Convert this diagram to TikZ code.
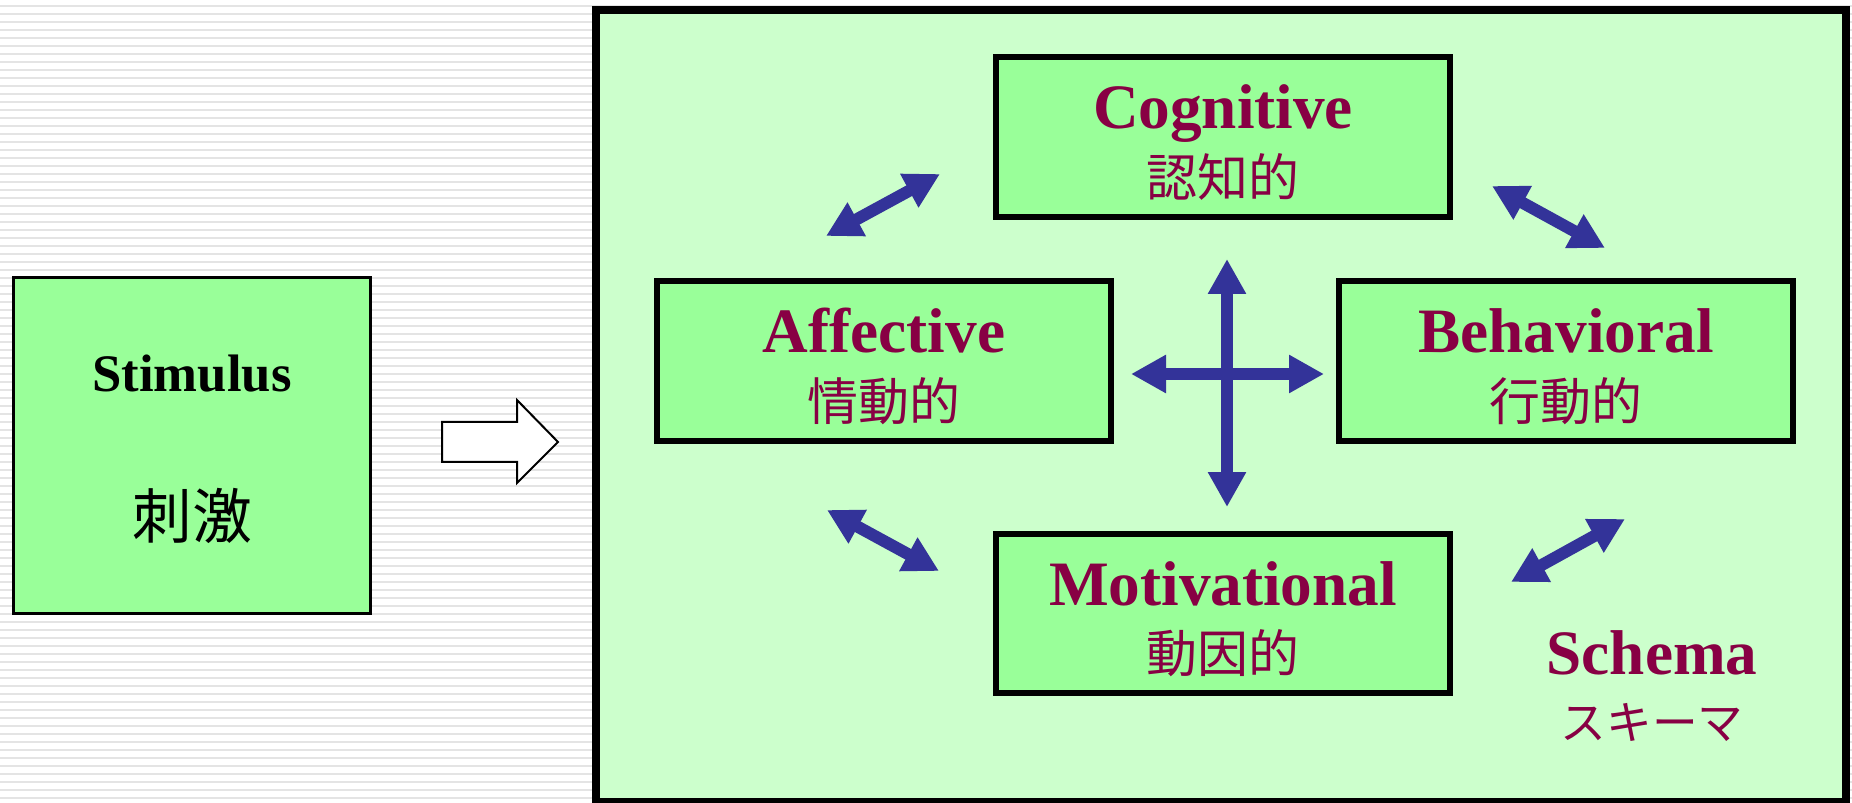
\documentclass[tikz,border=0pt]{standalone}
\usepackage{fontspec}
\setmainfont{Liberation Serif}
\newfontfamily\cjk{Noto Sans CJK JP}
\usetikzlibrary{arrows.meta,positioning,calc}
\definecolor{stripegray}{RGB}{228,228,228}
\definecolor{schemagreen}{RGB}{204,255,204}
\definecolor{facetgreen}{RGB}{153,255,153}
\definecolor{facetred}{RGB}{136,0,68}
\definecolor{linkblue}{RGB}{51,51,153}

\begin{document}
\begin{tikzpicture}[x=0.02cm,y=-0.02cm,line join=miter,
    facet/.style={draw=black,line width=0.12cm,fill=facetgreen,
      minimum width=9.1cm,minimum height=3.2cm,inner sep=0pt},
    engl/.style={font=\fontsize{36}{40}\selectfont\bfseries,text=facetred,anchor=base,inner sep=0pt},
    jp/.style={font=\cjk\fontsize{29}{32}\selectfont,text=facetred,inner sep=0pt},
    link/.style={linkblue,line width=0.24cm,
      {Triangle[length=0.7cm,width=0.72cm]}-{Triangle[length=0.7cm,width=0.72cm]}}]
  \useasboundingbox (0,0) rectangle (1852,803);
  % striped page
  \foreach \k in {0,...,99}
    \draw[stripegray,line width=0.035cm] (0,6+8*\k) -- (1852,6+8*\k);

  % stimulus side
  \node[draw=black,line width=0.05cm,fill=facetgreen,minimum width=7.14cm,
        minimum height=6.72cm,inner sep=0pt] (stim) at (192,445.5) {};
  \node[font=\fontsize{30}{34}\selectfont\bfseries,anchor=base,inner sep=0pt]
        (stim-en) at (192,392) {Stimulus};
  \node[font=\cjk\fontsize{34}{38}\selectfont,inner sep=0pt] (stim-jp) at (192,516) {刺激};
  \draw[black,line width=0.04cm,fill=white]
        (442,422) -- (517,422) -- (517,400) -- (558,442) -- (517,483) -- (517,462) -- (442,462) -- cycle;

  % schema frame
  \node[draw=black,line width=0.16cm,fill=schemagreen,minimum width=25.01cm,
        minimum height=15.84cm,inner sep=0pt] (schema) at (1221.25,406) {};

  \node[facet] (cog) at (1223,137) {};
  \node[facet] (aff) at (884,361) {};
  \node[facet] (beh) at (1566,361) {};
  \node[facet] (mot) at (1223,613.5) {};
  \foreach \n/\en/\jp in {cog/Cognitive/認知的,aff/Affective/情動的,
                          beh/Behavioral/行動的,mot/Motivational/動因的}{
    \node[engl] (\n-en) at ($(\n.center)+(0,-8)$) {\en};
    \node[jp] (\n-jp) at ($(\n.center)+(0,40)$) {\jp};
  }
  \node[engl] (schema-en) at (1652,674) {Schema};
  \node[jp,font=\cjk\fontsize{26}{30}\selectfont] (schema-jp) at (1652,722) {スキーマ};

  % links between facets
  \coordinate (up) at (1227,259);
  \coordinate (down) at (1227,507);
  \coordinate (left) at (1131,374);
  \coordinate (right) at (1324,374);
  \draw[link] (down) -- (up);
  \draw[link] (left) -- (right);
  \coordinate (tl1) at (826,236);  \coordinate (tl2) at (940,174);
  \coordinate (tr1) at (1492,186); \coordinate (tr2) at (1605,248);
  \coordinate (bl1) at (827,510);  \coordinate (bl2) at (939,571);
  \coordinate (br1) at (1511,582); \coordinate (br2) at (1625,519);
  \draw[link] (tl1) -- (tl2);
  \draw[link] (tr1) -- (tr2);
  \draw[link] (bl1) -- (bl2);
  \draw[link] (br1) -- (br2);
\end{tikzpicture}
\end{document}
